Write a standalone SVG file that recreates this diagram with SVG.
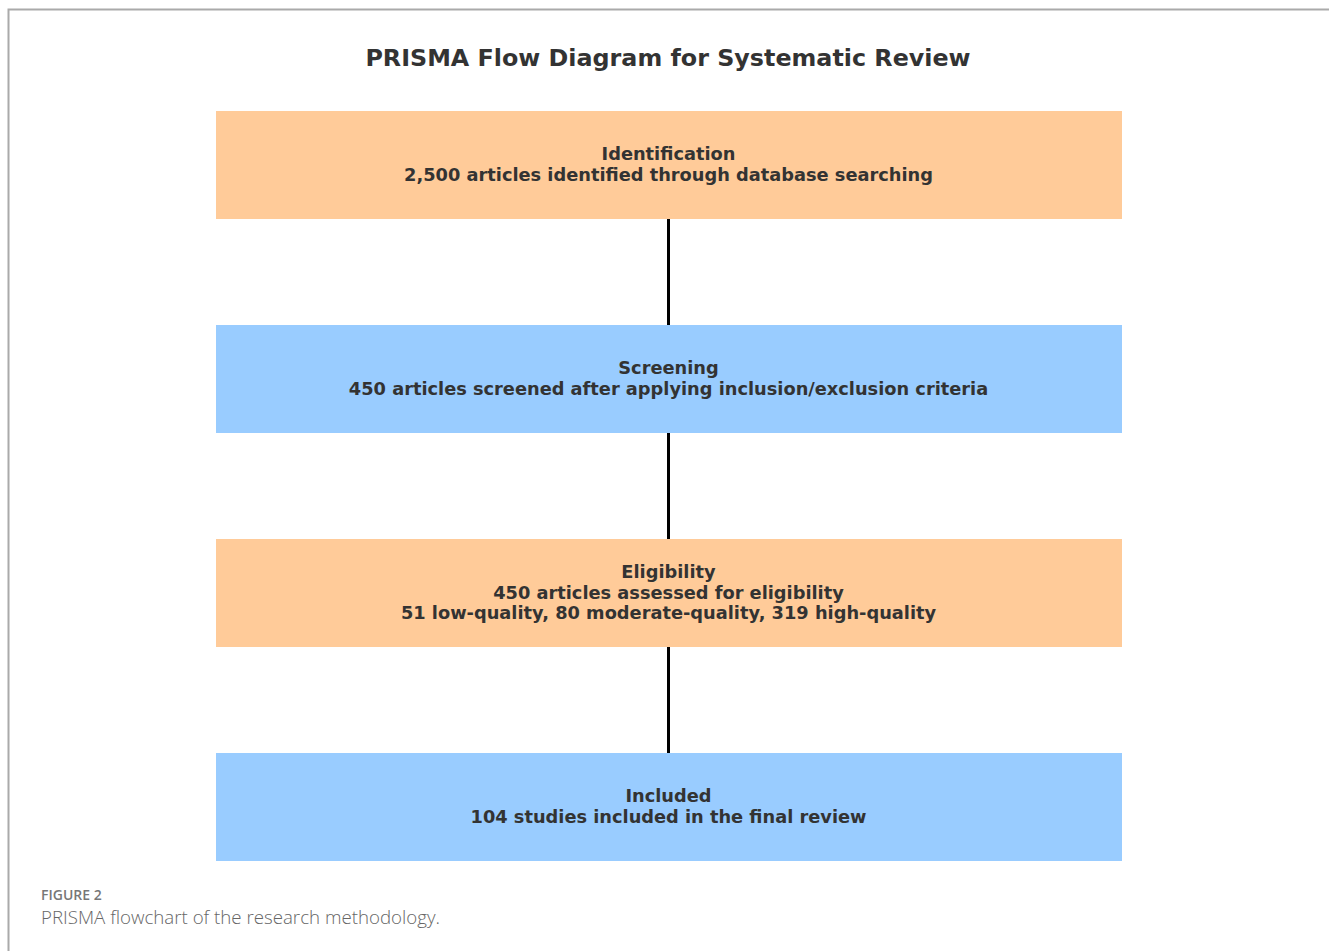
<svg xmlns="http://www.w3.org/2000/svg" width="1329" height="951" viewBox="0 0 1329 951">
  <style>
    .box-a { fill: #FFCB99; }
    .box-b { fill: #99CCFF; }
    .lbl { font-family: "DejaVu Sans", sans-serif; font-weight: bold; font-size: 17.8px; fill: #333333; text-anchor: middle; }
    .title { font-family: "DejaVu Sans", sans-serif; font-weight: bold; font-size: 23.8px; fill: #333333; text-anchor: middle; }
    .edge { stroke: #000000; stroke-width: 3; fill: none; }
    .cap-h { font-family: "Open Sans", sans-serif; font-weight: 600; font-size: 14px; fill: #777777; }
    .cap { font-family: "Open Sans", sans-serif; font-weight: 300; font-size: 18.7px; fill: #666666; }
  </style>
  <rect x="0" y="0" width="1329" height="951" fill="#ffffff"/>
  <!-- frame -->
  <path d="M8.5 951 V9.5 H1329" stroke="#aaaaaa" stroke-width="2" fill="none"/>

  <text class="title" x="668" y="66">PRISMA Flow Diagram for Systematic Review</text>

  <g id="connectors">
    <line class="edge" x1="668.5" y1="217" x2="668.5" y2="327"/>
    <line class="edge" x1="668.5" y1="431" x2="668.5" y2="541"/>
    <line class="edge" x1="668.5" y1="645" x2="668.5" y2="755"/>
  </g>

  <g id="identification">
    <rect class="box-a" x="216" y="111" width="906" height="108"/>
    <text class="lbl" x="668.5" y="160">Identification</text>
    <text class="lbl" x="668.5" y="180.5">2,500 articles identified through database searching</text>
  </g>

  <g id="screening">
    <rect class="box-b" x="216" y="325" width="906" height="108"/>
    <text class="lbl" x="668.5" y="374">Screening</text>
    <text class="lbl" x="668.5" y="394.5">450 articles screened after applying inclusion/exclusion criteria</text>
  </g>

  <g id="eligibility">
    <rect class="box-a" x="216" y="539" width="906" height="108"/>
    <text class="lbl" x="668.5" y="578">Eligibility</text>
    <text class="lbl" x="668.5" y="598.5">450 articles assessed for eligibility</text>
    <text class="lbl" x="668.5" y="619">51 low-quality, 80 moderate-quality, 319 high-quality</text>
  </g>

  <g id="included">
    <rect class="box-b" x="216" y="753" width="906" height="108"/>
    <text class="lbl" x="668.5" y="802">Included</text>
    <text class="lbl" x="668.5" y="822.5">104 studies included in the final review</text>
  </g>

  <text class="cap-h" x="41" y="900">FIGURE 2</text>
  <text class="cap" x="41" y="924">PRISMA flowchart of the research methodology.</text>
</svg>
